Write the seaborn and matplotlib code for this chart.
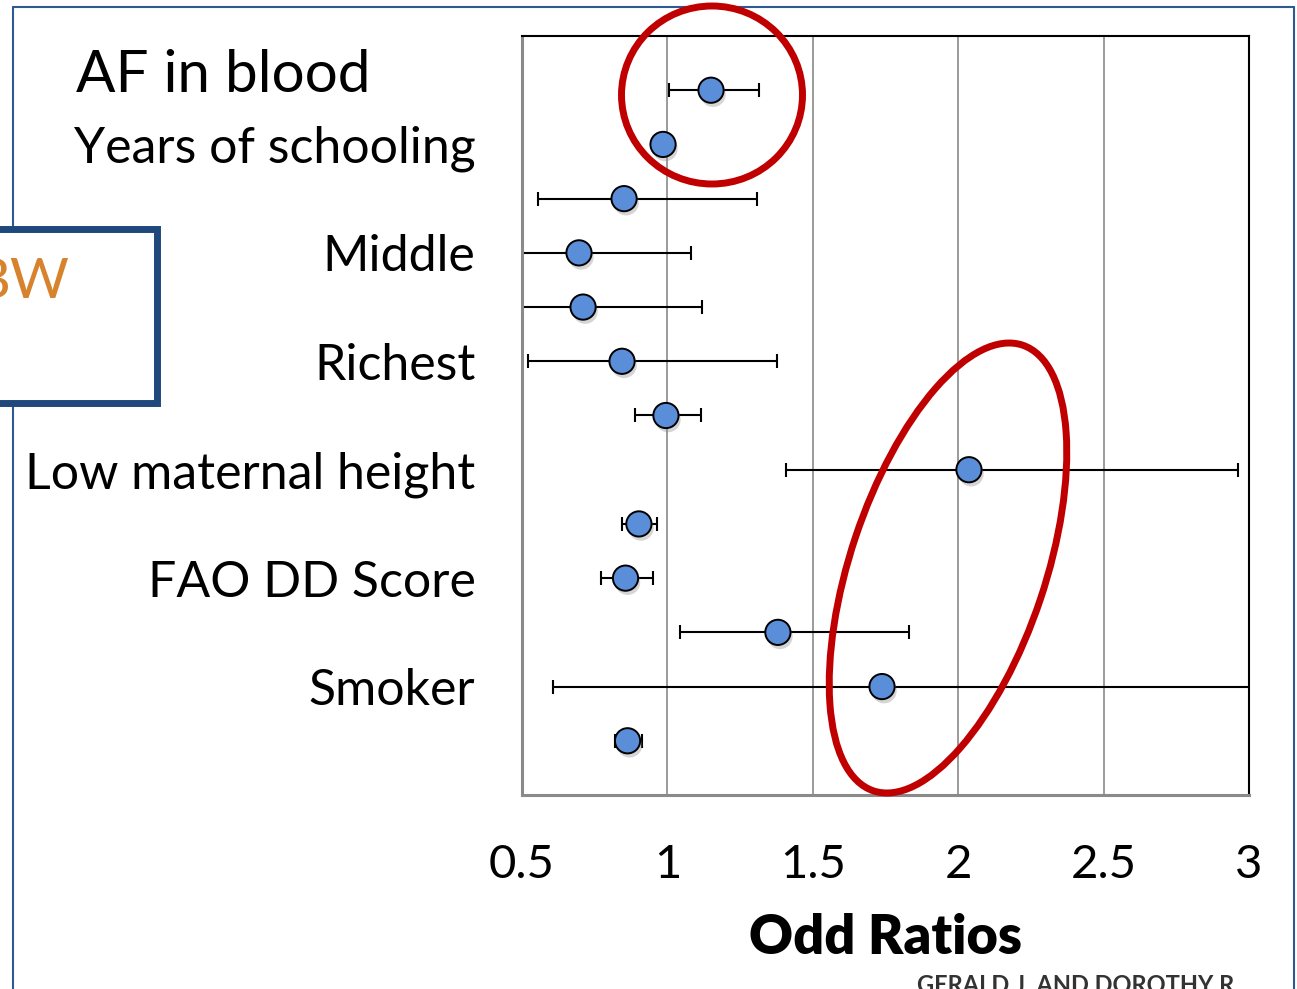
import matplotlib
matplotlib.use("Agg")
import matplotlib.pyplot as plt
import matplotlib.patheffects as pe
from matplotlib.patches import Ellipse, Rectangle
from matplotlib.lines import Line2D
from matplotlib.transforms import IdentityTransform
import seaborn as sns
import pandas as pd
import numpy as np

# ---------------- data ----------------
rows = list(range(1, 14))
odds = [1.150, 0.985, 0.851, 0.696, 0.710, 0.844, 0.995, 2.037, 0.902, 0.856, 1.380, 1.738, 0.863]
lower = [1.006, 0.975, 0.555, 0.450, 0.450, 0.521, 0.889, 1.408, 0.844, 0.770, 1.042, 0.607, 0.820]
upper = [1.315, 0.995, 1.307, 1.081, 1.119, 1.377, 1.117, 2.962, 0.964, 0.950, 1.831, 3.300, 0.913]
ytick_pos = list(range(0, 15))
ytick_labels = ["", "", "Years of schooling", "", "Middle", "", "Richest", "",
                "Low maternal height", "", "FAO DD Score", "", "Smoker", "", ""]
xticks = [0.5, 1, 1.5, 2, 2.5, 3]
xtick_labels = ["0.5", "1", "1.5", "2", "2.5", "3"]

df = pd.DataFrame({"row": rows, "odds": odds, "lower": lower, "upper": upper})

# ---------------- style ----------------
sns.set_theme(style="white")
plt.rcParams["font.family"] = ["Lato", "DejaVu Sans"]
plt.rcParams["text.color"] = "black"
plt.rcParams["axes.labelcolor"] = "black"
plt.rcParams["xtick.color"] = "black"
plt.rcParams["ytick.color"] = "black"

W, H = 1297, 989
fig = plt.figure(figsize=(W / 100, H / 100), dpi=100)
fig.patch.set_facecolor("white")
ax = fig.add_axes([522 / W, (H - 795) / H, (1249 - 522) / W, (795 - 36) / H])

# grid lines
for gx in [1, 1.5, 2, 2.5]:
    ax.axvline(gx, color="#8a8a8a", lw=1.2, zorder=0)

# error bars
ax.errorbar(df["odds"], df["row"],
            xerr=[df["odds"] - df["lower"], df["upper"] - df["odds"]],
            fmt="none", ecolor="black", elinewidth=1.5, capsize=4.8, capthick=1.5,
            zorder=2)

# points
sns.scatterplot(data=df, x="odds", y="row", ax=ax, s=330, color="#5B8ED8",
                edgecolor="black", linewidth=1.4, zorder=3, legend=False)
for coll in ax.collections:
    if coll.get_offsets().shape[0] == len(rows) and coll.get_sizes().size and coll.get_sizes()[0] > 100:
        coll.set_path_effects([pe.SimplePatchShadow(offset=(1.5, -3), shadow_rgbFace="#888888", alpha=0.35),
                               pe.Normal()])

ax.set_xlim(0.5, 3)
ax.set_ylim(14, 0)
ax.set_xticks(xticks)
ax.set_xticklabels(xtick_labels, fontsize=34)
ax.set_yticks(ytick_pos)
ax.set_yticklabels(ytick_labels, fontsize=36)
ax.tick_params(axis="x", length=12, width=1.2, color="#8a8a8a", labelcolor="black", pad=23, direction="out")
ax.tick_params(axis="y", length=11.5, width=1.5, color="#8a8a8a", labelcolor="black", pad=22, direction="out")
ax.set_xlabel("Odd Ratios", fontsize=39, fontweight="heavy", labelpad=20, color="black")
ax.set_ylabel("")

for side in ["left", "bottom"]:
    ax.spines[side].set_color("#8a8a8a")
    ax.spines[side].set_linewidth(2.2)
for side in ["top", "right"]:
    ax.spines[side].set_color("black")
    ax.spines[side].set_linewidth(1.5)

# separate big label for first row
fig.text(76 / W, (H - 92) / H, "AF in blood", fontsize=42, ha="left", va="baseline", color="black")

# ---------------- decorations (pixel space) ----------------
ident = IdentityTransform()
frame_col = "#2E5A94"
fig.add_artist(Line2D([13, 13], [H - 7, -10], color=frame_col, lw=1.5, transform=ident, zorder=1))
fig.add_artist(Line2D([13, 1294], [H - 7, H - 7], color=frame_col, lw=1.5, transform=ident, zorder=1))
fig.add_artist(Line2D([1294, 1294], [H - 7, -10], color=frame_col, lw=1.5, transform=ident, zorder=1))

box = Rectangle((-30, H - 402.5), 186.5, 174, facecolor="white", edgecolor="#1F497D",
                lw=5, transform=ident, zorder=5)
fig.add_artist(box)
fig.text(70 / W, (H - 298) / H, "BW", fontsize=41, ha="right", va="baseline",
         color="#D7832D", zorder=6)

fig.add_artist(Ellipse((712, H - 95), 181, 178, fill=False, edgecolor="#C00000", lw=5,
                       transform=ident, zorder=10))
fig.add_artist(Ellipse((948, H - 568), 470, 195, angle=71.5, fill=False, edgecolor="#C00000",
                       lw=5, transform=ident, zorder=10))

fig.text(1240 / W, (H - 974) / H, "GERALD J. AND DOROTHY R.", fontsize=17, fontweight="bold",
         ha="right", va="top", color="#333333")

fig.savefig("out.png", dpi=100)
